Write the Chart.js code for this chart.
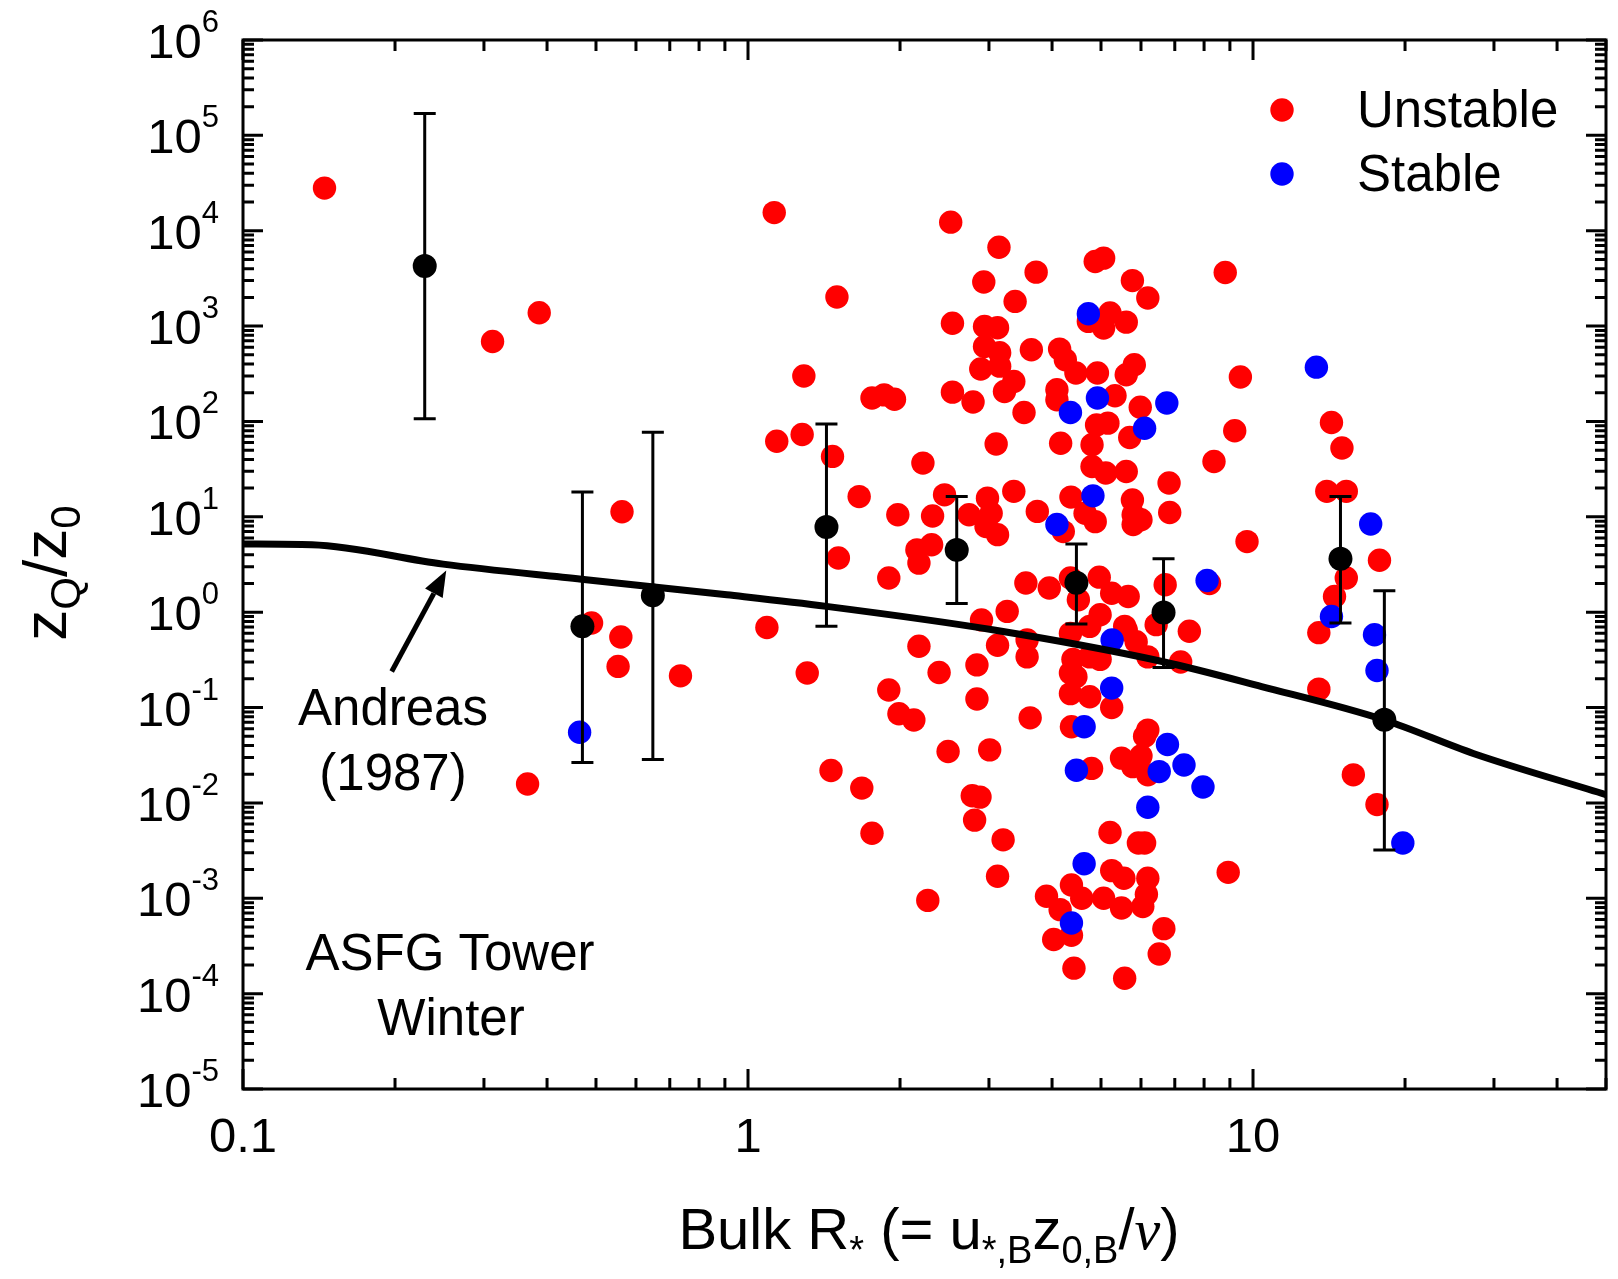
<!DOCTYPE html>
<html>
<head>
<meta charset="utf-8">
<script src="https://cdn.jsdelivr.net/npm/chart.js@4.4.1/dist/chart.umd.min.js"></script>
<style>
  html, body { margin: 0; padding: 0; background: #fff; }
  #chart { display: block; }
</style>
</head>
<body>
<canvas id="chart" width="1618" height="1279"></canvas>
<script>
// values: [Bulk R*, zQ/z0]
const unstablePoints = [
  [0.145, 2.8e4], [0.312, 690], [0.386, 1380], [0.366, 0.0158], [0.49, 0.77], [0.563, 11.3],
  [0.56, 0.55], [0.553, 0.27], [0.735, 0.215],
  [1.127, 1.55e4], [2.52, 1.23e4], [3.14, 6700], [2.93, 2900], [1.50, 2020], [2.54, 1070],
  [2.94, 990], [3.12, 960], [2.94, 610], [3.15, 525], [2.89, 355], [3.15, 380], [1.29, 300],
  [1.76, 176], [1.86, 190], [1.95, 171], [2.54, 203], [2.79, 160], [3.22, 206], [1.14, 62],
  [1.28, 73], [1.47, 43], [2.22, 36.6], [3.1, 58],
  [3.72, 3680], [3.38, 1815], [4.87, 4760], [5.06, 5160], [5.77, 3000], [6.19, 1970],
  [8.81, 3650], [4.72, 1120], [5.06, 955], [5.21, 1370], [5.61, 1100], [3.64, 565], [4.14, 574],
  [4.25, 444], [4.46, 322], [4.92, 322], [5.82, 393], [5.61, 309], [3.36, 263], [4.09, 215],
  [4.09, 169], [5.33, 186], [5.98, 141], [3.52, 124], [9.44, 292], [9.2, 80], [4.16, 59],
  [4.9, 92], [5.16, 96], [4.8, 57], [5.7, 68], [8.37, 38],
  [4.8, 33.7], [5.11, 28.8], [5.61, 29.9], [3.36, 18.5], [4.36, 16.1], [3.74, 11.4], [4.21, 7.0],
  [4.65, 10.9], [4.87, 8.9], [5.77, 15], [5.79, 10.5], [6.0, 9.3], [5.79, 8.3], [6.82, 22.6],
  [6.84, 11.1], [9.73, 5.5], [8.2, 2.0], [6.7, 1.94], [3.55, 2.02], [3.95, 1.79], [4.35, 2.28],
  [4.96, 2.33], [4.51, 1.35], [5.25, 1.58], [5.66, 1.46], [3.26, 1.02], [4.98, 0.94], [5.57, 0.71],
  [6.43, 0.74], [7.48, 0.63], [4.35, 0.6], [4.75, 0.71], [3.12, 0.45], [3.57, 0.51], [3.57, 0.34],
  [5.61, 0.65], [5.87, 0.49], [6.19, 0.34], [4.4, 0.32], [4.35, 0.23], [4.46, 0.21], [4.75, 0.34],
  [4.98, 0.32], [7.19, 0.30], [4.35, 0.14], [4.75, 0.13], [5.25, 0.10], [3.62, 0.078],
  [4.37, 0.063], [6.19, 0.058],
  [3.01, 0.036], [4.79, 0.023], [5.49, 0.0295], [6.0, 0.031], [5.78, 0.024], [6.19, 0.0197],
  [6.1, 0.05], [3.2, 0.0041], [5.21, 0.0049], [5.93, 0.0038], [6.1, 0.0038], [3.12, 0.0017],
  [5.25, 0.00195], [5.55, 0.00162], [6.19, 0.00162], [6.15, 0.0011], [4.37, 0.00138],
  [3.9, 0.00105], [4.15, 0.00076], [4.58, 0.001], [5.06, 0.001], [5.49, 0.00079], [6.05, 0.00082],
  [4.37, 0.00041], [4.03, 0.00037], [6.66, 0.00048], [6.52, 0.00026], [4.42, 0.000185],
  [5.57, 0.000145], [8.93, 0.00187],
  [1.66, 16.3], [1.98, 10.5], [2.45, 17], [2.32, 10.2], [2.98, 15.7], [2.74, 10.5], [3.03, 10.9],
  [2.96, 7.9], [3.12, 6.5], [2.16, 4.5], [2.31, 5.1], [2.18, 3.27], [1.51, 3.7], [1.9, 2.28],
  [1.09, 0.69], [2.9, 0.83], [2.18, 0.44], [2.39, 0.233], [2.84, 0.28], [1.31, 0.23], [1.9, 0.153],
  [1.99, 0.086], [2.13, 0.074], [2.84, 0.123],
  [2.49, 0.0346], [1.46, 0.0219], [1.68, 0.0143], [1.76, 0.0048], [2.78, 0.0119], [2.88, 0.0115],
  [2.81, 0.0066], [2.27, 0.00095],
  [14.3, 97.5], [15.0, 52.6], [14.0, 18.5], [15.3, 18.5], [17.8, 3.5], [15.3, 2.28], [14.5, 1.46],
  [13.5, 0.61], [13.5, 0.156], [15.8, 0.0197], [17.6, 0.0096]
];

const stablePoints = [
  [0.464, 0.055], [4.72, 1345], [4.35, 124], [4.92, 176], [6.75, 156], [6.1, 85], [4.82, 16.6],
  [4.09, 8.3], [8.11, 2.15], [5.26, 0.51], [5.25, 0.16], [4.63, 0.063], [6.77, 0.041],
  [4.47, 0.022], [6.52, 0.0213], [7.3, 0.025], [7.96, 0.0147], [6.19, 0.009], [4.63, 0.0023],
  [4.37, 0.00055], [13.35, 371], [17.1, 8.4], [14.3, 0.9], [17.4, 0.58], [17.6, 0.245],
  [19.8, 0.0038]
];

// bin means with error bars
const binX = [0.229, 0.47, 0.648, 1.43, 2.59, 4.47, 6.65, 14.9, 18.2];
const binY = [4270, 0.71, 1.5, 7.8, 4.5, 2.03, 0.99, 3.63, 0.0743];
const binLow = [107, 0.0266, 0.0286, 0.71, 1.23, 0.75, 0.263, 0.77, 0.0032];
const binHigh = [1.7e5, 18.2, 77, 94, 16.3, 5.2, 3.64, 16.3, 1.68];

// Andreas (1987) curve
const andreasX = [0.1, 0.137, 0.249, 0.468, 0.908, 1.43, 3.07, 6.61, 10.4, 18.2, 27.3, 50];
const andreasY = [5.2, 5.1, 3.19, 2.22, 1.52, 1.15, 0.65, 0.304, 0.166, 0.074, 0.033, 0.0122];

// axis ticks
const xTickValues = [0.1, 1, 10];
const xTickLabels = ["0.1", "1", "10"];
const yTickExponents = [6, 5, 4, 3, 2, 1, 0, -1, -2, -3, -4, -5];

// arrow pointing at the curve (data coords)
const arrowFrom = [0.197, 0.239];
const arrowTo = [0.2526, 2.74];

const SANS = '"Liberation Sans", Arial, sans-serif';
const SERIF = '"Liberation Serif", "Times New Roman", serif';

function toXY(pairs) {
  return pairs.map((p) => ({ x: p[0], y: p[1] }));
}

// draws runs of text with different sizes / offsets, left to right
function drawRuns(ctx, runs, x, y, measureOnly) {
  let cx = x;
  runs.forEach((r) => {
    ctx.font = r.font;
    if (!measureOnly) ctx.fillText(r.t, cx, y + (r.dy || 0));
    cx += ctx.measureText(r.t).width;
  });
  return cx - x;
}

const axesPlugin = {
  id: "axesPlugin",
  afterDatasetsDraw(chart) {
    const { ctx } = chart;
    const xs = chart.scales.x;
    const ys = chart.scales.y;

    // error bars
    ctx.save();
    ctx.strokeStyle = "#000";
    ctx.lineWidth = 3;
    binX.forEach((bx, i) => {
      const px = xs.getPixelForValue(bx);
      const top = ys.getPixelForValue(binHigh[i]);
      const bot = ys.getPixelForValue(binLow[i]);
      ctx.beginPath();
      ctx.moveTo(px, top);
      ctx.lineTo(px, bot);
      ctx.moveTo(px - 11, top);
      ctx.lineTo(px + 11, top);
      ctx.moveTo(px - 11, bot);
      ctx.lineTo(px + 11, bot);
      ctx.stroke();
    });
    ctx.restore();
  },
  afterDraw(chart) {
    const { ctx, chartArea: a } = chart;
    const xs = chart.scales.x;
    const ys = chart.scales.y;
    ctx.save();
    ctx.strokeStyle = "#000";
    ctx.fillStyle = "#000";
    ctx.lineWidth = 3;
    ctx.lineCap = "butt";

    // frame
    ctx.strokeRect(a.left, a.top, a.right - a.left, a.bottom - a.top);

    // ticks, pointing inward on all four sides
    const tick = (horizontal, pos, len) => {
      ctx.beginPath();
      if (horizontal) {
        ctx.moveTo(pos, a.bottom);
        ctx.lineTo(pos, a.bottom - len);
        ctx.moveTo(pos, a.top);
        ctx.lineTo(pos, a.top + len);
      } else {
        ctx.moveTo(a.left, pos);
        ctx.lineTo(a.left + len, pos);
        ctx.moveTo(a.right, pos);
        ctx.lineTo(a.right - len, pos);
      }
      ctx.stroke();
    };
    for (let e = -1; e <= 1; e++) {
      for (let m = 1; m <= 9; m++) {
        const v = m * Math.pow(10, e);
        if (v > xs.max) continue;
        tick(true, xs.getPixelForValue(v), m === 1 ? 20 : 11);
      }
    }
    for (let e = -5; e <= 6; e++) {
      for (let m = 1; m <= 9; m++) {
        const v = m * Math.pow(10, e);
        if (v > ys.max) continue;
        tick(false, ys.getPixelForValue(v), m === 1 ? 20 : 11);
      }
    }

    // x tick labels
    ctx.textBaseline = "alphabetic";
    ctx.textAlign = "center";
    ctx.font = "49px " + SANS;
    xTickValues.forEach((v, i) => {
      ctx.fillText(xTickLabels[i], xs.getPixelForValue(v), a.bottom + 63);
    });

    // y tick labels 10^n
    ctx.textAlign = "left";
    yTickExponents.forEach((ex) => {
      const py = ys.getPixelForValue(Math.pow(10, ex));
      const expStr = ex < 0 ? "-" + Math.abs(ex) : String(ex);
      ctx.font = "31px " + SANS;
      const ew = ctx.measureText(expStr).width;
      ctx.font = "49px " + SANS;
      const bw = ctx.measureText("10").width;
      const right = a.left - 24;
      ctx.fillText("10", right - ew - bw, py + 18);
      ctx.font = "31px " + SANS;
      ctx.fillText(expStr, right - ew, py - 8);
    });

    // x axis title
    const big = "58px " + SANS;
    const small = "38px " + SANS;
    const xRuns = [
      { t: "Bulk R", font: big },
      { t: "*", font: small, dy: 14 },
      { t: " (= u", font: big },
      { t: "*,B", font: small, dy: 14 },
      { t: "z", font: big },
      { t: "0,B", font: small, dy: 14 },
      { t: "/", font: big },
      { t: "\u03bd", font: "italic 58px " + SERIF },
      { t: ")", font: big },
    ];
    const xw = drawRuns(ctx, xRuns, 0, 0, true);
    drawRuns(ctx, xRuns, 929 - xw / 2, 1249);

    // y axis title (rotated)
    const yBig = "62px " + SANS;
    const ySmall = "42px " + SANS;
    const yRuns = [
      { t: "z", font: yBig },
      { t: "Q", font: ySmall, dy: 14 },
      { t: "/z", font: yBig },
      { t: "0", font: ySmall, dy: 14 },
    ];
    const yw = drawRuns(ctx, yRuns, 0, 0, true);
    ctx.save();
    ctx.translate(66, 573);
    ctx.rotate(-Math.PI / 2);
    drawRuns(ctx, yRuns, -yw / 2, 0);
    ctx.restore();

    // legend
    const legend = [
      { label: "Unstable", color: "#ff0000", y: 110 },
      { label: "Stable", color: "#0000ff", y: 174 },
    ];
    legend.forEach((l) => {
      ctx.fillStyle = l.color;
      ctx.beginPath();
      ctx.arc(1282, l.y, 11.7, 0, Math.PI * 2);
      ctx.fill();
      ctx.fillStyle = "#000";
      ctx.font = "51px " + SANS;
      ctx.textAlign = "left";
      ctx.fillText(l.label, 1357, l.y + 17);
    });

    // annotations
    ctx.font = "51px " + SANS;
    ctx.textAlign = "center";
    ctx.fillText("Andreas", 393, 725);
    ctx.fillText("(1987)", 393, 790);
    ctx.fillText("ASFG Tower", 450, 970);
    ctx.fillText("Winter", 451, 1035);

    // arrow
    const x0 = xs.getPixelForValue(arrowFrom[0]);
    const y0 = ys.getPixelForValue(arrowFrom[1]);
    const x1 = xs.getPixelForValue(arrowTo[0]);
    const y1 = ys.getPixelForValue(arrowTo[1]);
    const ang = Math.atan2(y1 - y0, x1 - x0);
    const headLen = 26;
    const headW = 10;
    const bx = x1 - headLen * Math.cos(ang);
    const by = y1 - headLen * Math.sin(ang);
    ctx.lineWidth = 5;
    ctx.beginPath();
    ctx.moveTo(x0, y0);
    ctx.lineTo(bx, by);
    ctx.stroke();
    ctx.beginPath();
    ctx.moveTo(x1, y1);
    ctx.lineTo(bx + headW * Math.sin(ang), by - headW * Math.cos(ang));
    ctx.lineTo(bx - headW * Math.sin(ang), by + headW * Math.cos(ang));
    ctx.closePath();
    ctx.fill();

    ctx.restore();
  },
};

const ctx = document.getElementById("chart").getContext("2d");

new Chart(ctx, {
  type: "scatter",
  data: {
    datasets: [
      {
        label: "Bin means",
        data: binX.map((x, i) => ({ x: x, y: binY[i] })),
        backgroundColor: "#000",
        borderColor: "#000",
        pointRadius: 12,
        pointBorderWidth: 0,
        order: 0,
      },
      {
        label: "Andreas (1987)",
        data: andreasX.map((x, i) => ({ x: x, y: andreasY[i] })),
        showLine: true,
        borderColor: "#000",
        borderWidth: 7,
        borderJoinStyle: "round",
        pointRadius: 0,
        cubicInterpolationMode: "monotone",
        order: 1,
      },
      {
        label: "Stable",
        data: toXY(stablePoints),
        backgroundColor: "#0000ff",
        borderColor: "#0000ff",
        pointRadius: 11.7,
        pointBorderWidth: 0,
        order: 2,
      },
      {
        label: "Unstable",
        data: toXY(unstablePoints),
        backgroundColor: "#ff0000",
        borderColor: "#ff0000",
        pointRadius: 11.7,
        pointBorderWidth: 0,
        order: 3,
      },
    ],
  },
  options: {
    responsive: false,
    animation: false,
    layout: { padding: { left: 243, top: 40, right: 2, bottom: 190 } },
    scales: {
      x: { type: "logarithmic", min: 0.1, max: 50, display: false },
      y: { type: "logarithmic", min: 1e-5, max: 1e6, display: false },
    },
    plugins: {
      legend: { display: false },
      tooltip: { enabled: false },
    },
  },
  plugins: [axesPlugin],
});
</script>
</body>
</html>
